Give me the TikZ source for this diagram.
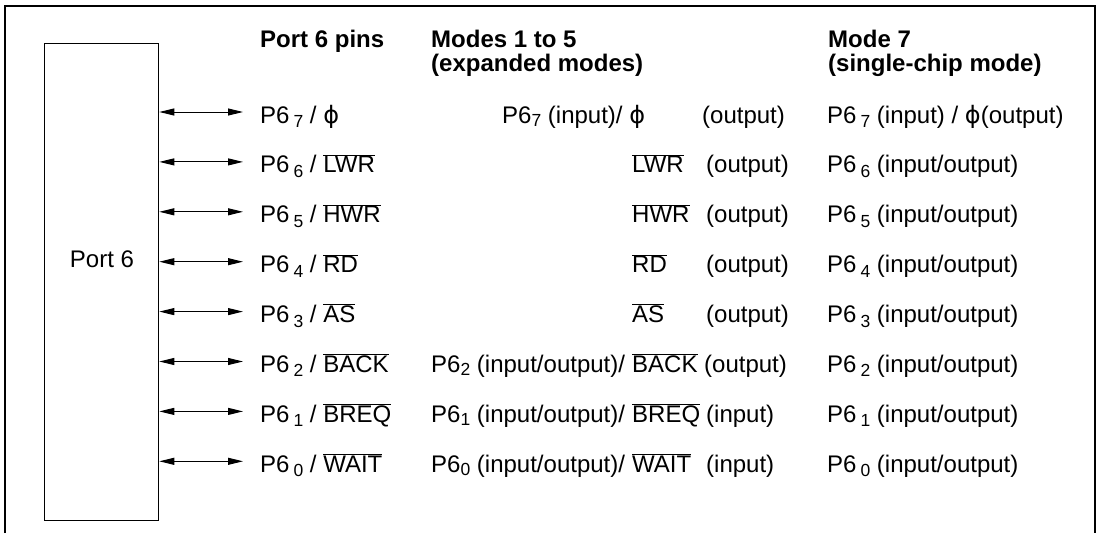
\documentclass[tikz,border=0pt]{standalone}
\usepackage{fontspec}
\setmainfont{Liberation Sans}
\newfontfamily\phifont{DejaVu Sans}
\usetikzlibrary{arrows.meta,positioning}

% overlined signal name, phi, and the two kinds of subscript
\newcommand{\ovl}[1]{$\overline{\hbox{#1}}$}
\newcommand{\phisym}{{\phifont ϕ}}
\newcommand{\lsub}[1]{\,\raisebox{-0.35ex}{\fontsize{17.5}{17.5}\selectfont #1}}
\newcommand{\tsub}[1]{\raisebox{-0.25ex}{\fontsize{17.5}{17.5}\selectfont #1}}

\begin{document}
\begin{tikzpicture}[x=1pt, y=-1pt,
  lbl/.style={anchor=base west, inner sep=0pt, font=\fontsize{24}{28}\selectfont},
  head/.style={lbl, font=\fontsize{24}{24}\selectfont\bfseries},
  pinarrow/.style={{Triangle[length=15pt,width=7pt]}-{Triangle[length=15pt,width=7pt]}, line width=1pt}]

\useasboundingbox (0,0) rectangle (1100,533);

% Outer frame (open at the bottom)
\draw[line width=2pt] (5,533) -- (5,6) -- (1095,6) -- (1095,533);

% Port block
\node[draw, line width=1.3pt, minimum width=114pt, minimum height=477pt,
  inner sep=0pt, anchor=north west] (port) at (44,43) {};
\node[lbl, anchor=base] (portlbl) at (102,267) {Port 6};

% Column headings
\node[head] (hpins)  at (260,47) {Port 6 pins};
\node[head] (hexp)   at (431,47) {Modes 1 to 5};
\node[head] (hexp2)  at (431,71) {(expanded modes)};
\node[head] (hsc)    at (828,47) {Mode 7};
\node[head] (hsc2)   at (828,71) {(single-chip mode)};

% Pin arrows and pin names
\foreach \n/\sig in {7/\phisym, 6/{\ovl{LWR}}, 5/{\ovl{HWR}}, 4/{\ovl{RD}},
                     3/{\ovl{AS}}, 2/{\ovl{BACK}}, 1/{\ovl{BREQ}}, 0/{\ovl{WAIT}}}{
  \pgfmathsetmacro{\y}{112+49.9*(7-\n)}
  \coordinate (pin\n) at (243,\y);
  \draw[pinarrow] (port.east |- pin\n) -- (pin\n);
  \node[lbl] (pinlbl\n) at (260,\y+11) {P6\lsub{\n} / \sig};
}

% Modes 1 to 5
\node[lbl] (exp7)  at (502,123) {P6\tsub{7} (input)/ \phisym};
\node[lbl] (exp7o) at (702,123) {(output)};
\foreach \n/\sig in {6/LWR, 5/HWR, 4/RD, 3/AS}{
  \pgfmathsetmacro{\y}{123+49.9*(7-\n)}
  \node[lbl] (exps\n) at (632,\y) {\ovl{\sig}};
  \node[lbl] (expo\n) at (706,\y) {(output)};
}
\node[lbl] (exp2)  at (431,372.5) {P6\tsub{2} (input/output)/};
\node[lbl] (exp2s) at (632,372.5) {\ovl{BACK} (output)};
\node[lbl] (exp1)  at (431,422.4) {P6\tsub{1} (input/output)/};
\node[lbl] (exp1s) at (632,422.4) {\ovl{BREQ}};
\node[lbl] (exp1o) at (706,422.4) {(input)};
\node[lbl] (exp0)  at (431,472.3) {P6\tsub{0} (input/output)/};
\node[lbl] (exp0s) at (632,472.3) {\ovl{WAIT}};
\node[lbl] (exp0o) at (706,472.3) {(input)};

% Mode 7
\node[lbl] (sc7) at (827,123) {P6\lsub{7} (input) / \phisym(output)};
\foreach \n in {6,...,0}{
  \pgfmathsetmacro{\y}{123+49.9*(7-\n)}
  \node[lbl] (sc\n) at (827,\y) {P6\lsub{\n} (input/output)};
}

\end{tikzpicture}
\end{document}
